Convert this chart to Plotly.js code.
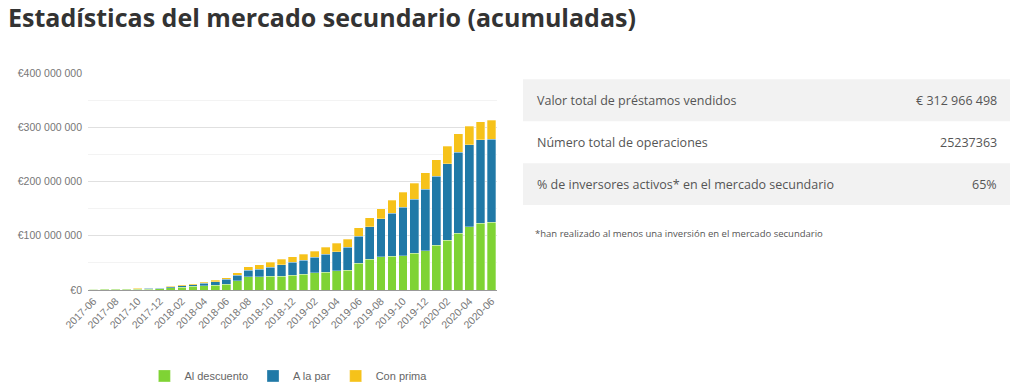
<!DOCTYPE html>
<html>
<head>
<meta charset="utf-8">
<script src="https://cdn.plot.ly/plotly-3.0.1.min.js"></script>
<style>html,body{margin:0;padding:0;background:#fff;}#chart{width:1024px;height:390px;}</style>
</head>
<body>
<div id="chart"></div>
<script>
// Monthly categories
const months = ["2017-06","2017-07","2017-08","2017-09","2017-10","2017-11","2017-12",
  "2018-01","2018-02","2018-03","2018-04","2018-05","2018-06","2018-07","2018-08","2018-09","2018-10","2018-11","2018-12",
  "2019-01","2019-02","2019-03","2019-04","2019-05","2019-06","2019-07","2019-08","2019-09","2019-10","2019-11","2019-12",
  "2020-01","2020-02","2020-03","2020-04","2020-05","2020-06"];
// Cumulative values (millions of €) per segment
const alDescuento = [1.0,1.1,1.2,1.3,1.4,1.6,2.0,3.8,5.2,6.5,8.0,9.2,11.0,17.2,24.5,24.5,25.8,25.8,27.6,28.8,31.9,33.1,35.6,36.2,49.6,57.0,61.3,62.6,63.2,68.1,72.4,82.8,92.0,105.0,116.6,122.7,124.5];
const aLaPar = [0.7,0.8,0.9,1.0,1.1,1.3,1.6,2.2,2.8,3.3,4.3,6.1,8.6,9.6,12.3,14.1,15.9,20.8,23.9,25.8,28.2,33.2,35.0,42.3,49.8,59.6,70.0,78.5,88.9,98.8,112.9,127.0,140.5,149.0,151.4,154.0,153.5];
const conPrima = [0.2,0.3,0.3,0.3,0.4,0.5,0.8,1.0,1.8,1.9,2.4,3.1,3.1,5.1,6.2,8.4,9.8,9.8,9.8,11.7,11.1,12.2,15.3,15.1,15.4,16.2,18.7,24.5,28.3,30.0,30.7,30.7,32.5,34.3,33.8,33.1,35.0];
const seriesNames = ["Al descuento","A la par","Con prima"];
const yTickVals = [0,100e6,200e6,300e6,400e6];
const yTickText = ["€0","€100 000 000","€200 000 000","€300 000 000","€400 000 000"];
const xTickVals = months.filter((m,i)=>i%2===0);
// Stats table
const statLabels = ["Valor total de préstamos vendidos","Número total de operaciones","% de inversores activos* en el mercado secundario"];
const statValues = ["€ 312 966 498","25237363","65%"];
const footnote = "*han realizado al menos una inversión en el mercado secundario";
const titleText = "Estadísticas del mercado secundario (acumuladas)";

const colors = ["#7fd334","#2079a7","#f6c21a"];
const M = v => v*1e6;
const data = [alDescuento,aLaPar,conPrima].map((arr,k)=>({
  type:"bar", x:months, y:arr.map(M), name:seriesNames[k],
  marker:{color:colors[k], line:{color:"#ffffff", width:0.3}},
  hoverinfo:"x+y+name"
}));

// plot area in pixels
const L=88, R=497, T=72.7, B=290;
const W=R-L, H=B-T;
const px = x => (x-L)/W;
const py = y => (B-y)/H;

const shapes = [];
const annotations = [];
const rows = [[79,121,true],[121,163,false],[163,205,true]];
const tfont = {family:"Open Sans, Noto Sans, sans-serif", size:12.5, color:"#555"};
rows.forEach((r,i)=>{
  if(r[2]) shapes.push({type:"rect", xref:"paper", yref:"paper", x0:px(523), x1:px(1010), y0:py(r[1]), y1:py(r[0]), fillcolor:"#f2f2f2", line:{width:0}, layer:"below"});
  const yc = (r[0]+r[1])/2;
  annotations.push({xref:"paper", yref:"paper", x:px(535), y:py(yc), xanchor:"left", yanchor:"middle", text:statLabels[i], showarrow:false, font:tfont});
  annotations.push({xref:"paper", yref:"paper", x:px(999), y:py(yc), xanchor:"right", yanchor:"middle", text:statValues[i], showarrow:false, font:tfont});
});
annotations.push({xref:"paper", yref:"paper", x:px(533), y:py(233), xanchor:"left", yanchor:"middle", text:footnote, showarrow:false, font:{family:"Open Sans, Noto Sans, sans-serif", size:9.5, color:"#555"}});

const layout = {
  width:1024, height:390,
  margin:{l:L, r:1024-R, t:T, b:390-B, autoexpand:false},
  paper_bgcolor:"#fff", plot_bgcolor:"#fff",
  barmode:"stack", bargap:0.2,
  title:{text:titleText, x:8/1024, xanchor:"left", xref:"container", yref:"container", y:1-18/390, yanchor:"middle",
    font:{family:"Open Sans, Noto Sans, sans-serif", size:25, color:"#333", weight:700}},
  xaxis:{type:"category", tickvals:xTickVals, ticktext:xTickVals, tickangle:-45, automargin:false,
    tickfont:{family:"Liberation Sans, Arial, sans-serif", size:10.5, color:"#777"},
    showgrid:false, showline:true, linecolor:"#999", linewidth:1, ticks:"", ticklen:0, fixedrange:true},
  yaxis:{range:[0,400e6], tickvals:yTickVals, ticktext:yTickText, automargin:false,
    tickfont:{family:"Liberation Sans, Arial, sans-serif", size:10.5, color:"#777"},
    showgrid:true, gridcolor:"#e0e0e0", gridwidth:1, zeroline:false, ticks:"", ticklabelstandoff:5,
    minor:{tickvals:[50e6,150e6,250e6,350e6], showgrid:true, gridcolor:"#f3f3f3", gridwidth:1},
    fixedrange:true},
  legend:{orientation:"h", x:0.49, xanchor:"center", y:py(376), yanchor:"middle",
    font:{family:"Liberation Sans, Arial, sans-serif", size:11, color:"#666"}, traceorder:"normal"},
  shapes:shapes, annotations:annotations,
  showlegend:true
};
Plotly.newPlot("chart", data, layout, {displayModeBar:false});
</script>
</body>
</html>
